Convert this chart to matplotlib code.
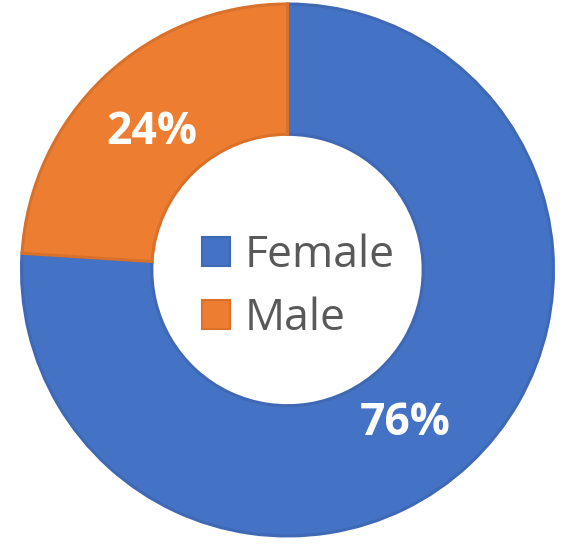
import numpy as np
import matplotlib.pyplot as plt
from matplotlib.patches import Patch

labels = ['Female', 'Male']
shares = [76, 24]
colors = ['#4472C4', '#ED7D31']
edge_colors = ['#3F68B5', '#D9712B']

fig = plt.figure(figsize=(5.75, 5.5), dpi=100)
ax = fig.add_axes([0, 0, 1, 1])

wedges, _ = ax.pie(shares, colors=colors, startangle=90, counterclock=False,
                   radius=1.0, wedgeprops=dict(width=0.49, linewidth=2.2))
for w, ec in zip(wedges, edge_colors):
    w.set_edgecolor(ec)

# percentage labels roughly in the middle of each ring segment
nudge = [-5.6, 1.3]  # small angle tweaks to match the reference placement
start = 90.0
total = sum(shares)
for val, dn in zip(shares, nudge):
    span = 360.0 * val / total
    mid = np.deg2rad(start - span / 2 + dn)
    r = 0.727
    ax.text(r * np.cos(mid), r * np.sin(mid), f'{val}%', ha='center', va='center',
            color='white', fontsize=32, fontweight='bold', family='Open Sans')
    start -= span

handles = [Patch(facecolor=c, edgecolor=ec, linewidth=1.5) for c, ec in zip(colors, edge_colors)]
leg = ax.legend(handles, labels, loc='center', bbox_to_anchor=(0.04, -0.065),
                bbox_transform=ax.transData, frameon=False,
                handlelength=0.63, handleheight=0.63,
                handletextpad=0.34, labelspacing=0.42, labelcolor='#595959',
                prop={'family': 'Open Sans', 'size': 32})

ax.set_xlim(-287.5 / 266, (575 - 287.5) / 266)
ax.set_ylim(-280 / 266, 270 / 266)
ax.set_aspect('auto')
ax.axis('off')

fig.savefig('out.png', dpi=100, facecolor='white')
